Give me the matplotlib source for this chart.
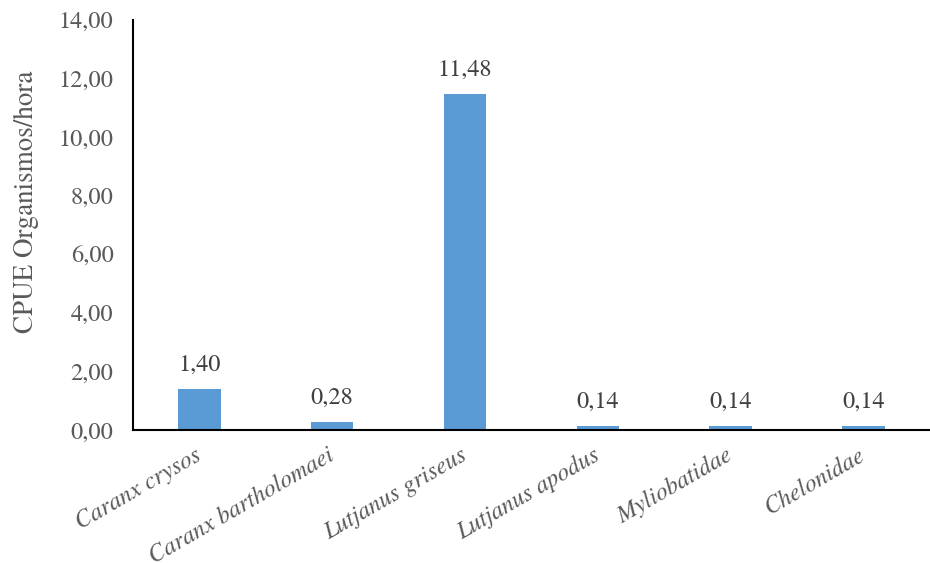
import matplotlib.pyplot as plt

especies = ['Caranx crysos', 'Caranx bartholomaei', 'Lutjanus griseus',
            'Lutjanus apodus', 'Myliobatidae', 'Chelonidae']
cpue = [1.40, 0.28, 11.48, 0.14, 0.14, 0.14]
yticks = [0, 2, 4, 6, 8, 10, 12, 14]

plt.rcParams['font.family'] = ['TeX Gyre Termes', 'Liberation Serif', 'DejaVu Serif']
gris = '#595959'
fs = 17.5

fig = plt.figure(figsize=(9.3, 5.63), dpi=100)
ax = fig.add_axes([0.143, 0.236, 0.857, 0.7285])

x = range(len(especies))
ax.bar(x, cpue, width=0.32, color='#5b9bd5', zorder=2)

for xi, v in zip(x, cpue):
    ax.text(xi, v + 0.45, f'{v:.2f}'.replace('.', ','), ha='center', va='bottom',
            fontsize=fs, color='#404040')

ax.set_xlim(-0.5, len(especies) - 0.5)
ax.set_ylim(0, 14)
ax.set_yticks(yticks)
ax.set_yticklabels([f'{t:.2f}'.replace('.', ',') for t in yticks], fontsize=fs, color=gris)
ax.set_xticks(list(x))
ax.set_xticklabels(especies, rotation=30, ha='right', va='center', rotation_mode='anchor',
                   fontsize=fs, color=gris, style='italic')
ax.tick_params(axis='y', length=0, pad=14)
ax.tick_params(axis='x', length=0, pad=17)
ax.set_ylabel('CPUE Organismos/hora', fontsize=19.5, color=gris)
ax.yaxis.set_label_coords(-0.118, 0.556)

for s in ['top', 'right']:
    ax.spines[s].set_visible(False)
for s in ['left', 'bottom']:
    ax.spines[s].set_linewidth(1.5)
    ax.spines[s].set_color('black')

fig.savefig('out.png', dpi=100)
